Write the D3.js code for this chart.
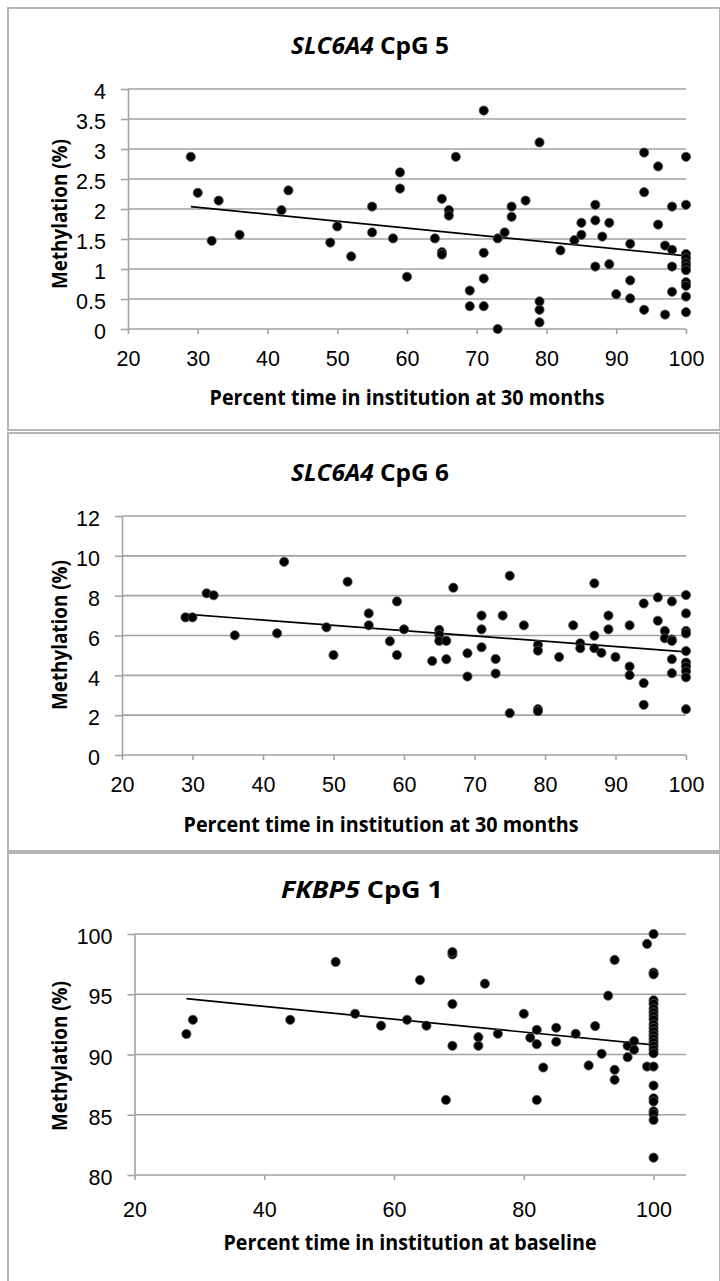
<!DOCTYPE html>
<html>
<head>
<meta charset="utf-8">
<script src="https://cdn.jsdelivr.net/npm/d3@7"></script>
<style>
  body { margin: 0; background: #fff; }
  svg { display: block; font-family: "Open Sans", "Liberation Sans", sans-serif; }
</style>
</head>
<body>
<svg id="chart" width="720" height="1281"></svg>
<script>
// 데이터: [percent time, methylation %]
const cpg5Points = [
    [29, 2.87], [30, 2.27], [32, 1.47], [33, 2.14], [36, 1.57], [42, 1.98], [43, 2.31],
    [49, 1.44], [50, 1.71], [52, 1.21], [55, 2.04], [55, 1.61], [58, 1.51], [59, 2.61],
    [59, 2.34], [60, 0.87], [64, 1.51], [65, 2.17], [65, 1.28], [65, 1.24], [66, 1.98],
    [66, 1.89], [67, 2.87], [69, 0.64], [69, 0.38], [71, 3.64], [71, 1.27], [71, 0.84],
    [71, 0.38], [73, 0.0], [73, 1.51], [74, 1.61], [75, 2.04], [75, 1.87], [77, 2.14],
    [79, 3.11], [79, 0.46], [79, 0.32], [79, 0.11], [82, 1.31], [84, 1.48], [85, 1.57],
    [85, 1.77], [87, 2.07], [87, 1.81], [87, 1.04], [88, 1.54], [89, 1.77], [89, 1.08],
    [90, 0.58], [92, 1.42], [92, 0.81], [92, 0.51], [94, 2.94], [94, 2.28], [94, 0.32],
    [96, 2.71], [96, 1.74], [97, 1.39], [97, 0.24], [98, 1.32], [98, 2.04], [98, 1.04],
    [98, 0.62], [100, 2.87], [100, 2.07], [100, 1.25], [100, 1.18], [100, 1.1], [100, 1.04],
    [100, 0.98], [100, 0.78], [100, 0.72], [100, 0.54], [100, 0.28]
];
const cpg5Trend = [[29, 2.04], [100, 1.22]];

const cpg6Points = [
    [29, 6.91], [30, 6.91], [32, 8.12], [33, 8.02], [36, 6.01], [42, 6.11], [43, 9.7],
    [49, 6.41], [50, 5.02], [52, 8.7], [55, 7.11], [55, 6.51], [58, 5.71], [59, 7.71],
    [59, 5.02], [60, 6.31], [64, 4.72], [65, 6.28], [65, 6.03], [65, 5.73], [66, 5.73],
    [66, 4.81], [67, 8.4], [69, 5.11], [69, 3.94], [71, 7.0], [71, 6.31], [71, 5.41],
    [73, 4.82], [73, 4.09], [74, 7.0], [75, 9.0], [75, 2.1], [77, 6.51], [79, 5.53],
    [79, 5.24], [79, 2.3], [79, 2.2], [82, 4.92], [84, 6.51], [85, 5.61], [85, 5.36],
    [87, 8.62], [87, 5.99], [87, 5.36], [88, 5.13], [89, 7.0], [89, 6.31], [90, 4.92],
    [92, 6.51], [92, 4.44], [92, 4.01], [94, 7.61], [94, 3.61], [94, 2.52], [96, 7.91],
    [96, 6.74], [97, 6.23], [97, 5.86], [98, 7.71], [98, 5.8], [98, 5.73], [98, 4.81],
    [98, 4.11], [100, 8.03], [100, 7.11], [100, 6.23], [100, 6.1], [100, 5.22], [100, 4.64],
    [100, 4.44], [100, 4.2], [100, 3.9], [100, 2.3]
];
const cpg6Trend = [[29, 7.07], [100, 5.18]];

const fkbpPoints = [
    [28, 91.7], [29, 92.88], [44, 92.88], [51, 97.68], [54, 93.38], [58, 92.39], [62, 92.88],
    [64, 96.18], [65, 92.39], [68, 86.23], [69, 98.3], [69, 98.5], [69, 94.19], [69, 90.72],
    [73, 91.44], [73, 90.72], [74, 95.88], [76, 91.72], [80, 93.38], [81, 91.39], [82, 92.05],
    [82, 90.86], [82, 86.23], [83, 88.92], [85, 92.22], [85, 91.06], [88, 91.72], [90, 89.09],
    [91, 92.36], [92, 90.06], [93, 94.88], [94, 97.85], [94, 88.73], [94, 87.9], [96, 90.72],
    [96, 89.78], [97, 91.11], [97, 90.4], [99, 99.18], [99, 89.0], [100, 100.0], [100, 96.8],
    [100, 96.65], [100, 94.5], [100, 94.2], [100, 93.8], [100, 93.5], [100, 93.2], [100, 92.9],
    [100, 92.5], [100, 92.2], [100, 91.9], [100, 91.6], [100, 91.3], [100, 91.0], [100, 90.7],
    [100, 90.4], [100, 90.1], [100, 89.0], [100, 87.42], [100, 86.37], [100, 86.1], [100, 85.29],
    [100, 85.05], [100, 84.57], [100, 81.44]
];
const fkbpTrend = [[28, 94.63], [100, 90.8]];

// 눈금
const xTicks10 = [20, 30, 40, 50, 60, 70, 80, 90, 100];
const xTicks20 = [20, 40, 60, 80, 100];
const yTicks5 = [0, 0.5, 1, 1.5, 2, 2.5, 3, 3.5, 4];
const yTicks6 = [0, 2, 4, 6, 8, 10, 12];
const yTicksF = [80, 85, 90, 95, 100];

const gridColor = "#a3a3a3";

const svg = d3.select("#chart");

svg.append("rect")
    .attr("width", 720)
    .attr("height", 1281)
    .attr("fill", "#fff");

// 패널 하나 그리기
function drawPanel(p) {
    const g = svg.append("g");

    // 패널 테두리
    g.append("rect")
        .attr("x", 8)
        .attr("y", p.top)
        .attr("width", 712)
        .attr("height", p.bottom - p.top)
        .attr("fill", "none")
        .attr("stroke", "#b5b5b5")
        .attr("stroke-width", 2);

    const x = d3.scaleLinear().domain(p.xDomain).range(p.xRange);
    const y = d3.scaleLinear().domain(p.yDomain).range(p.yRange);
    const x0 = p.xRange[0];
    const x1 = p.xRange[1];

    // 가로 격자선
    g.selectAll(".grid")
        .data(p.yTicks.slice(1))
        .enter()
        .append("line")
        .attr("x1", x0)
        .attr("x2", x1)
        .attr("y1", d => y(d))
        .attr("y2", d => y(d))
        .attr("stroke", gridColor)
        .attr("stroke-width", 1.6);

    // y축
    const yAxis = g.append("g")
        .attr("transform", `translate(${x0},0)`)
        .call(d3.axisLeft(y)
            .tickValues(p.yTicks)
            .tickFormat(d => String(d))
            .tickSize(7)
            .tickPadding(15)
            .tickSizeOuter(0));
    yAxis.select(".domain").attr("stroke", gridColor).attr("stroke-width", 1.6);
    yAxis.selectAll(".tick line").attr("stroke", gridColor).attr("stroke-width", 1.6);
    yAxis.selectAll("text")
        .attr("dy", "0.45em")
        .style("font-size", "21.5px")
        .style("fill", "#000");

    // x축
    const xAxis = g.append("g")
        .attr("transform", `translate(0,${p.yRange[0]})`)
        .call(d3.axisBottom(x)
            .tickValues(p.xTicks)
            .tickFormat(d => String(d))
            .tickSize(5)
            .tickPadding(p.labelPad)
            .tickSizeOuter(0));
    xAxis.select(".domain")
        .attr("d", `M${x0},0H${x1}`)
        .attr("stroke", gridColor)
        .attr("stroke-width", 1.6);
    xAxis.selectAll(".tick line").attr("stroke", gridColor).attr("stroke-width", 1.6);
    xAxis.selectAll("text")
        .style("font-size", "21.5px")
        .style("fill", "#000");

    // 추세선
    g.append("path")
        .datum(p.trend)
        .attr("fill", "none")
        .attr("stroke", "#000")
        .attr("stroke-width", 1.7)
        .attr("d", d3.line().x(d => x(d[0])).y(d => y(d[1])));

    // 점
    g.selectAll(".dot")
        .data(p.points)
        .enter()
        .append("circle")
        .attr("cx", d => x(d[0]))
        .attr("cy", d => y(d[1]))
        .attr("r", 4.6)
        .attr("fill", "#000")
        .attr("stroke", "#555")
        .attr("stroke-width", 0.8);

    // 제목
    const title = g.append("text")
        .attr("x", p.titleX)
        .attr("y", p.titleY)
        .attr("text-anchor", "middle")
        .attr("textLength", p.titleLen)
        .attr("lengthAdjust", "spacingAndGlyphs")
        .style("font-size", "24px")
        .style("font-weight", "bold");
    title.append("tspan").style("font-style", "italic").text(p.gene);
    title.append("tspan").text(p.site);

    // x축 제목
    g.append("text")
        .attr("x", p.xTitleX)
        .attr("y", p.xTitleY)
        .attr("text-anchor", "middle")
        .attr("textLength", p.xTitleLen)
        .attr("lengthAdjust", "spacingAndGlyphs")
        .style("font-size", "22px")
        .style("font-weight", "bold")
        .text(p.xTitle);

    // y축 제목
    g.append("text")
        .attr("transform", `translate(59,${p.yTitleY}) rotate(-90)`)
        .attr("text-anchor", "middle")
        .attr("dy", "0.36em")
        .attr("textLength", 150)
        .attr("lengthAdjust", "spacingAndGlyphs")
        .style("font-size", "22px")
        .style("font-weight", "bold")
        .text("Methylation (%)");
}

drawPanel({
    top: 8, bottom: 430,
    gene: "SLC6A4", site: " CpG 5", titleX: 370, titleY: 54, titleLen: 158,
    xTitle: "Percent time in institution at 30 months", xTitleX: 407, xTitleY: 405, xTitleLen: 395,
    yTitleY: 214,
    xDomain: [20, 100], xRange: [128, 686], xTicks: xTicks10,
    yDomain: [0, 4], yRange: [329, 89], yTicks: yTicks5,
    labelPad: 17,
    points: cpg5Points, trend: cpg5Trend
});

drawPanel({
    top: 433, bottom: 851,
    gene: "SLC6A4", site: " CpG 6", titleX: 370, titleY: 481, titleLen: 158,
    xTitle: "Percent time in institution at 30 months", xTitleX: 381, xTitleY: 832, xTitleLen: 395,
    yTitleY: 635,
    xDomain: [20, 100], xRange: [122, 686], xTicks: xTicks10,
    yDomain: [0, 12], yRange: [755, 516], yTicks: yTicks6,
    labelPad: 17,
    points: cpg6Points, trend: cpg6Trend
});

drawPanel({
    top: 853, bottom: 1295,
    gene: "FKBP5", site: " CpG 1", titleX: 362, titleY: 898, titleLen: 162,
    xTitle: "Percent time in institution at baseline", xTitleX: 410, xTitleY: 1250, xTitleLen: 373,
    yTitleY: 1056,
    xDomain: [20, 105], xRange: [134.5, 686], xTicks: xTicks20,
    yDomain: [80, 100], yRange: [1175, 934], yTicks: yTicksF,
    labelPad: 22,
    points: fkbpPoints, trend: fkbpTrend
});
</script>
</body>
</html>
